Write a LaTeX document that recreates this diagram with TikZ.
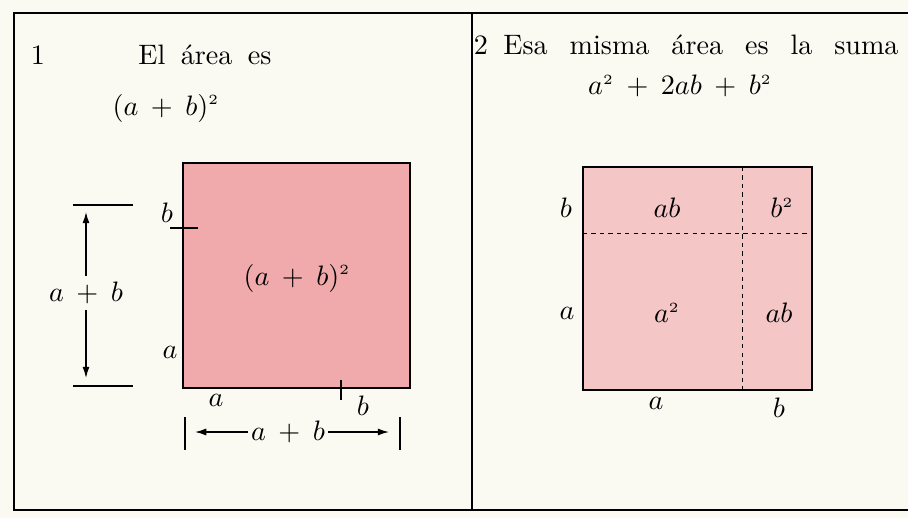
\documentclass[tikz,border=0pt]{standalone}
\usetikzlibrary{arrows.meta}
\definecolor{paper}{RGB}{251,250,242}
\definecolor{pinkA}{RGB}{240,170,172}
\definecolor{pinkB}{RGB}{244,198,198}
\newcommand{\widespace}{\spaceskip=0.78em plus 0.1em\relax}
\newcommand{\midspace}{\spaceskip=0.55em plus 0.1em\relax}
\newcommand{\sqr}{^{\scriptscriptstyle 2}}
\medmuskip=8mu plus 2mu minus 2mu
\tikzset{
  lbl/.style={scale=2, inner sep=0pt},
  ttl/.style={lbl, execute at begin node=\widespace},
  dimarrow/.style={-{Latex[length=8pt,width=5pt]}, line width=0.9pt},
}
\begin{document}
\begin{tikzpicture}[x=0.025cm, y=-0.025cm]
        % Page and frame
        \fill[paper] (0,0) rectangle (908,518);
        \useasboundingbox (0,0) rectangle (908,518);
        \draw[line width=1.3pt] (908,13) -- (14,13) -- (14,510) -- (908,510);
        \draw[line width=1.1pt] (472,13) -- (472,510);

        % Panel 1
        \node[lbl] (num1) at (38,55) {1};
        \node[lbl, execute at begin node=\midspace] (title1) at (205,55) {El área es};
        \node[lbl] (expr1) at (166,108) {$(a + b)\sqr$};

        \draw[line width=1.2pt, fill=pinkA] (183,163) rectangle (410,388);
        \node[lbl] (sq1) at (297,278) {$(a + b)\sqr$};
        \draw[line width=0.9pt] (170,228) -- (198,228);
        \draw[line width=0.9pt] (341,380) -- (341,400);
        \node[lbl] (b1l) at (167,213) {$b$};
        \node[lbl] (a1l) at (170,352) {$a$};
        \node[lbl] (a1b) at (216,400) {$a$};
        \node[lbl] (b1b) at (363,406) {$b$};

        % Left dimension
        \draw[line width=0.9pt] (73,205) -- (133,205);
        \draw[line width=0.9pt] (73,386) -- (133,386);
        \node[lbl, inner sep=2pt] (ab1) at (86,293) {$a + b$};
        \coordinate (ab1top) at (86,212);
        \coordinate (ab1bot) at (86,378);
        \draw[dimarrow] (ab1) -- (ab1top);
        \draw[dimarrow] (ab1) -- (ab1bot);

        % Bottom dimension
        \draw[line width=0.9pt] (185,417) -- (185,450);
        \draw[line width=0.9pt] (400,417) -- (400,450);
        \node[lbl, inner sep=1pt] (ab2) at (288,432) {$a + b$};
        \coordinate (ab2left) at (195,432);
        \coordinate (ab2right) at (389,432);
        \draw[dimarrow] (ab2) -- (ab2left);
        \draw[dimarrow] (ab2) -- (ab2right);

        % Panel 2
        \node[lbl] (num2) at (481,45) {2};
        \node[ttl] (title2) at (701,45) {Esa misma área es la suma};
        \node[lbl] (expr2) at (680,86) {$a\sqr + 2ab + b\sqr$};

        \draw[line width=1.2pt, fill=pinkB] (583,167) rectangle (812,390);
        \draw[dashed, line width=0.5pt] (583,233) -- (812,233);
        \draw[dashed, line width=0.5pt] (742,167) -- (742,390);

        \node[lbl] (b2l) at (566,208) {$b$};
        \node[lbl] (ab2t) at (667,208) {$ab$};
        \node[lbl] (bb2) at (782,208) {$b\sqr$};
        \node[lbl] (a2l) at (567,313) {$a$};
        \node[lbl] (aa2) at (667,313) {$a\sqr$};
        \node[lbl] (ab2r) at (779,313) {$ab$};
        \node[lbl] (a2b) at (656,403) {$a$};
        \node[lbl] (b2b) at (779,408) {$b$};
    \end{tikzpicture}
\end{document}
